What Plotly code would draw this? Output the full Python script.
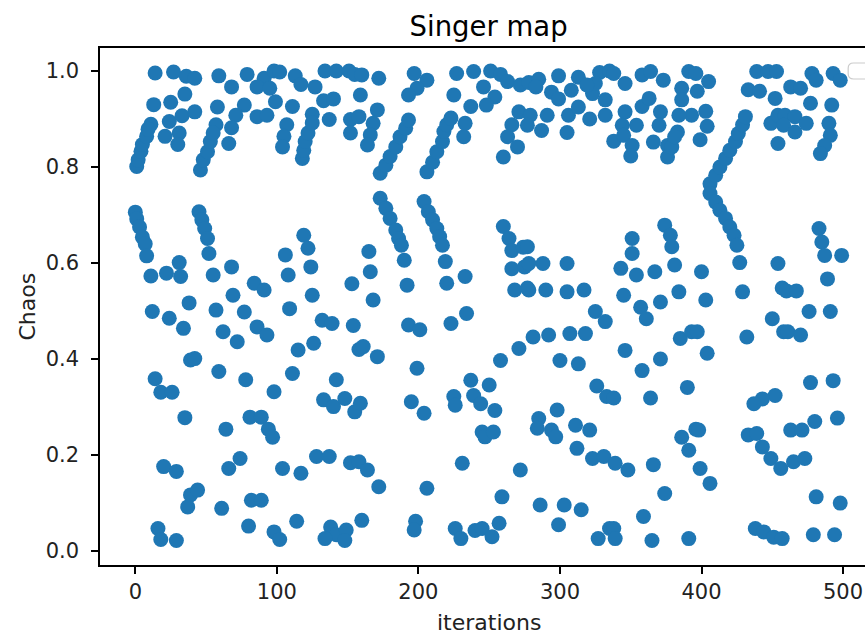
import plotly.graph_objects as go

title_text = "Singer map"
x_label = "iterations"
y_label = "Chaos"
x_ticks = [0, 100, 200, 300, 400, 500]
y_ticks = [0.0, 0.2, 0.4, 0.6, 0.8, 1.0]

# (iteration, value) pairs
points = [
    # 0-40
    (14,0.996),(27,0.998),(36,0.989),(13,0.930),(25,0.935),(35,0.952),
    (11,0.889),(24,0.895),(33,0.907),(21,0.864),(31,0.871),(30,0.847),
    (1,0.801),(2,0.815),(4,0.833),(5,0.847),(8,0.864),(9,0.879),
    (0,0.706),(1,0.692),(3,0.675),(5,0.654),(7,0.640),(8,0.615),
    (31,0.601),(11,0.573),(22,0.579),(32,0.572),(38,0.517),
    (12,0.499),(24,0.485),(34,0.464),(39,0.398),
    (14,0.359),(18,0.331),(26,0.331),(35,0.278),
    (20,0.176),(29,0.166),(39,0.117),(37,0.092),
    (16,0.047),(18,0.024),(29,0.022),
    # 40-100
    (42,0.985),(59,0.990),(79,0.993),(91,0.985),(98,1.000),
    (68,0.967),(86,0.967),(95,0.964),
    (42,0.915),(58,0.925),(77,0.929),(71,0.908),(86,0.905),(93,0.908),
    (57,0.888),(68,0.882),(66,0.849),
    (46,0.794),(48,0.815),(51,0.832),(53,0.853),(55,0.871),
    (45,0.707),(47,0.690),(49,0.672),(51,0.651),(52,0.620),
    (68,0.592),(55,0.575),(84,0.558),(91,0.544),(69,0.533),
    (57,0.502),(77,0.498),(86,0.467),(93,0.450),(62,0.457),(72,0.436),
    (42,0.401),(59,0.374),(78,0.357),(98,0.332),
    (81,0.279),(89,0.279),(94,0.254),(97,0.237),(64,0.254),
    (66,0.172),(74,0.193),(44,0.127),(61,0.089),(82,0.106),(89,0.106),
    (80,0.052),(98,0.040),
    # 100-160
    (102,0.998),(113,0.990),(117,0.972),(134,1.000),(142,1.000),(151,1.000),(155,0.993),
    (99,0.936),(111,0.926),(127,0.967),(133,0.938),(140,0.942),
    (125,0.910),(137,0.899),(107,0.888),(105,0.864),(104,0.842),
    (152,0.899),(152,0.871),
    (118,0.818),(119,0.835),(120,0.853),(122,0.871),(125,0.892),
    (119,0.658),(122,0.631),(124,0.592),
    (106,0.617),(108,0.575),(153,0.557),(125,0.533),(109,0.505),
    (132,0.481),(139,0.474),(154,0.470),
    (126,0.433),(115,0.419),(158,0.420),(111,0.370),
    (142,0.357),(133,0.315),(140,0.301),(148,0.318),(155,0.290),
    (128,0.197),(137,0.197),(104,0.172),(117,0.162),(152,0.184),
    (114,0.062),(102,0.024),(138,0.050),(142,0.034),(149,0.044),(134,0.026),(148,0.022),
    # 160-220
    (160,0.992),(172,0.985),(159,0.950),(171,0.919),(158,0.905),(168,0.891),(166,0.867),(164,0.846),
    (197,0.995),(206,0.981),(199,0.964),(193,0.950),
    (173,0.787),(177,0.804),(180,0.822),(184,0.842),(187,0.863),(191,0.881),(193,0.898),
    (173,0.735),(177,0.714),(180,0.693),(184,0.669),(186,0.651),(188,0.637),(190,0.606),
    (165,0.624),(166,0.582),(168,0.523),(192,0.554),
    (193,0.471),(201,0.461),(161,0.426),(171,0.405),(199,0.381),
    (159,0.308),(195,0.311),(204,0.287),
    (158,0.186),(164,0.169),(172,0.134),(206,0.131),
    (160,0.064),(198,0.062),(197,0.044),
    (206,0.790),(210,0.810),(213,0.832),(217,0.853),(218,0.874),(220,0.888),
    (204,0.728),(207,0.707),(210,0.690),(213,0.672),(215,0.655),(217,0.637),(219,0.603),
    # 220-275
    (227,0.995),(239,0.999),(251,1.000),(258,0.993),(263,0.978),(272,0.971),
    (225,0.950),(237,0.926),(246,0.967),(254,0.946),(248,0.929),
    (223,0.902),(233,0.891),(232,0.863),
    (271,0.915),(266,0.888),(263,0.863),(260,0.821),(270,0.842),
    (220,0.558),(233,0.572),(223,0.474),(234,0.495),
    (260,0.676),(264,0.651),(266,0.626),(274,0.633),(266,0.588),(275,0.592),
    (268,0.544),(277,0.548),(271,0.422),(258,0.397),
    (237,0.356),(250,0.346),(225,0.322),(226,0.304),(239,0.324),(244,0.307),(254,0.293),
    (245,0.248),(247,0.238),(253,0.248),
    (231,0.183),(272,0.169),(259,0.113),(257,0.058),
    (226,0.047),(230,0.026),(240,0.043),(245,0.047),(252,0.030),
    # 275-335
    (278,0.976),(285,0.983),(299,0.990),(313,0.987),(328,0.997),(335,1.000),
    (283,0.967),(294,0.956),(299,0.942),(308,0.960),(323,0.953),(325,0.974),(319,0.971),(332,0.940),
    (279,0.908),(291,0.908),(306,0.908),(313,0.925),(321,0.900),(332,0.908),
    (277,0.887),(287,0.876),(305,0.872),(338,0.854),
    (277,0.634),(278,0.599),(288,0.599),(305,0.599),
    (278,0.544),(290,0.544),(305,0.540),(317,0.544),
    (325,0.499),(332,0.478),
    (281,0.446),(292,0.450),(307,0.453),(318,0.453),
    (300,0.397),(313,0.390),(326,0.344),(333,0.322),
    (298,0.294),(285,0.276),(284,0.256),(294,0.252),(297,0.238),(311,0.262),(321,0.252),(312,0.214),
    (323,0.193),(331,0.197),
    (286,0.096),(303,0.096),(315,0.086),(299,0.055),(327,0.026),(335,0.047),
    # 335-395
    (338,0.995),(346,0.974),(358,0.992),(364,0.999),(373,0.981),(391,0.999),
    (346,0.915),(358,0.926),(363,0.943),(371,0.915),(386,0.964),(386,0.940),(393,0.908),(384,0.908),
    (344,0.887),(354,0.887),(370,0.887),(383,0.873),
    (345,0.866),(351,0.845),(350,0.823),(366,0.852),(376,0.845),(376,0.821),(379,0.842),(381,0.863),
    (351,0.651),(351,0.620),(374,0.679),(378,0.658),(379,0.634),
    (343,0.589),(354,0.575),(367,0.582),(381,0.596),
    (345,0.533),(357,0.508),(361,0.484),(371,0.519),(384,0.540),
    (385,0.443),(393,0.457),(346,0.418),(371,0.400),(358,0.376),(390,0.341),
    (338,0.319),(364,0.319),
    (396,0.254),(386,0.237),(391,0.210),
    (339,0.183),(348,0.169),(366,0.180),(374,0.120),(359,0.072),
    (338,0.047),(339,0.026),(365,0.022),(391,0.026),
    # 395-455
    (396,0.995),(405,0.978),(397,0.958),(403,0.916),(404,0.885),(399,0.857),
    (439,0.999),(447,0.999),(453,0.999),(433,0.961),(441,0.958),(452,0.943),(449,0.891),(454,0.908),(454,0.849),
    (406,0.765),(410,0.783),(413,0.800),(417,0.818),(420,0.835),(424,0.853),(426,0.870),(429,0.888),(431,0.905),
    (406,0.745),(410,0.727),(413,0.710),(417,0.693),(420,0.675),(423,0.658),(425,0.637),(427,0.601),
    (400,0.582),(403,0.523),(429,0.540),(454,0.599),(457,0.548),(450,0.484),(458,0.457),
    (397,0.457),(404,0.412),(432,0.446),
    (452,0.324),(443,0.317),(437,0.307),
    (398,0.252),(433,0.242),(439,0.245),(443,0.217),(449,0.193),(456,0.172),
    (399,0.172),(406,0.141),
    (438,0.047),(444,0.040),(451,0.029),(457,0.026),
    # 455-500
    (478,0.995),(493,0.995),(481,0.981),(498,0.981),
    (463,0.967),(470,0.964),(477,0.933),(492,0.929),
    (459,0.908),(466,0.905),(474,0.891),(490,0.891),
    (458,0.887),(466,0.873),
    (491,0.866),(487,0.845),(484,0.828),
    (483,0.672),(485,0.644),(487,0.616),(499,0.616),(489,0.567),
    (460,0.542),(467,0.542),(476,0.499),(491,0.499),(461,0.457),(470,0.450),
    (477,0.351),(493,0.355),
    (463,0.252),(471,0.252),(480,0.270),(496,0.277),
    (465,0.186),(473,0.193),
    (481,0.113),(498,0.100),
    (479,0.034),(494,0.034),
]
iterations = [p[0] for p in points]
chaos = [p[1] for p in points]

FONT = "DejaVu Sans"
fig = go.Figure()
fig.add_trace(go.Scatter(
    x=iterations, y=chaos, mode="markers",
    marker=dict(size=15, color="#1f77b4", line=dict(width=0)),
    showlegend=False, hoverinfo="skip",
))

fig.update_layout(
    width=865, height=634,
    margin=dict(l=100, r=0, t=48, b=69),
    paper_bgcolor="white", plot_bgcolor="white",
    font=dict(family=FONT, color="black"),
    showlegend=False,
    title=dict(text=title_text, x=0.508, xref="paper", xanchor="center",
               y=1 - 26 / 634, yref="container", yanchor="middle",
               font=dict(size=27.5, family=FONT, color="black")),
    xaxis=dict(range=[-24.95, 515.5], tickvals=x_ticks, ticktext=[str(v) for v in x_ticks],
               showgrid=False, zeroline=False, showline=True, linecolor="black", linewidth=1.5,
               mirror=True, ticks="outside", ticklen=7, tickwidth=1.5, tickcolor="black",
               tickfont=dict(size=21, family=FONT, color="#222"), ticklabelstandoff=0),
    yaxis=dict(range=[-0.029, 1.048], tickvals=y_ticks, ticktext=[f"{v:.1f}" for v in y_ticks],
               showgrid=False, zeroline=False, showline=True, linecolor="black", linewidth=1.5,
               ticks="outside", ticklen=7, tickwidth=1.5, tickcolor="black",
               tickfont=dict(size=21, family=FONT, color="#222"), ticklabelstandoff=8),
    annotations=[
        dict(text=x_label, xref="paper", yref="paper", x=0.508, y=(634 - 622 - 69) / 517,
             xanchor="center", yanchor="middle", showarrow=False,
             font=dict(size=22, family=FONT, color="#222")),
        dict(text=y_label, xref="paper", yref="paper", x=(27 - 100) / 765, y=0.5,
             xanchor="center", yanchor="middle", showarrow=False, textangle=-90,
             font=dict(size=22, family=FONT, color="#222")),
    ],
    shapes=[
        dict(type="path", xref="paper", yref="paper",
             path="M 0.985 0.971 L 1.01 0.971 L 1.01 0.940 L 0.985 0.940 Q 0.978 0.940 0.978 0.950 L 0.978 0.961 Q 0.978 0.971 0.985 0.971 Z",
             fillcolor="white", line=dict(color="#cccccc", width=1.2)),
    ],
)

fig.write_html("out.html")
